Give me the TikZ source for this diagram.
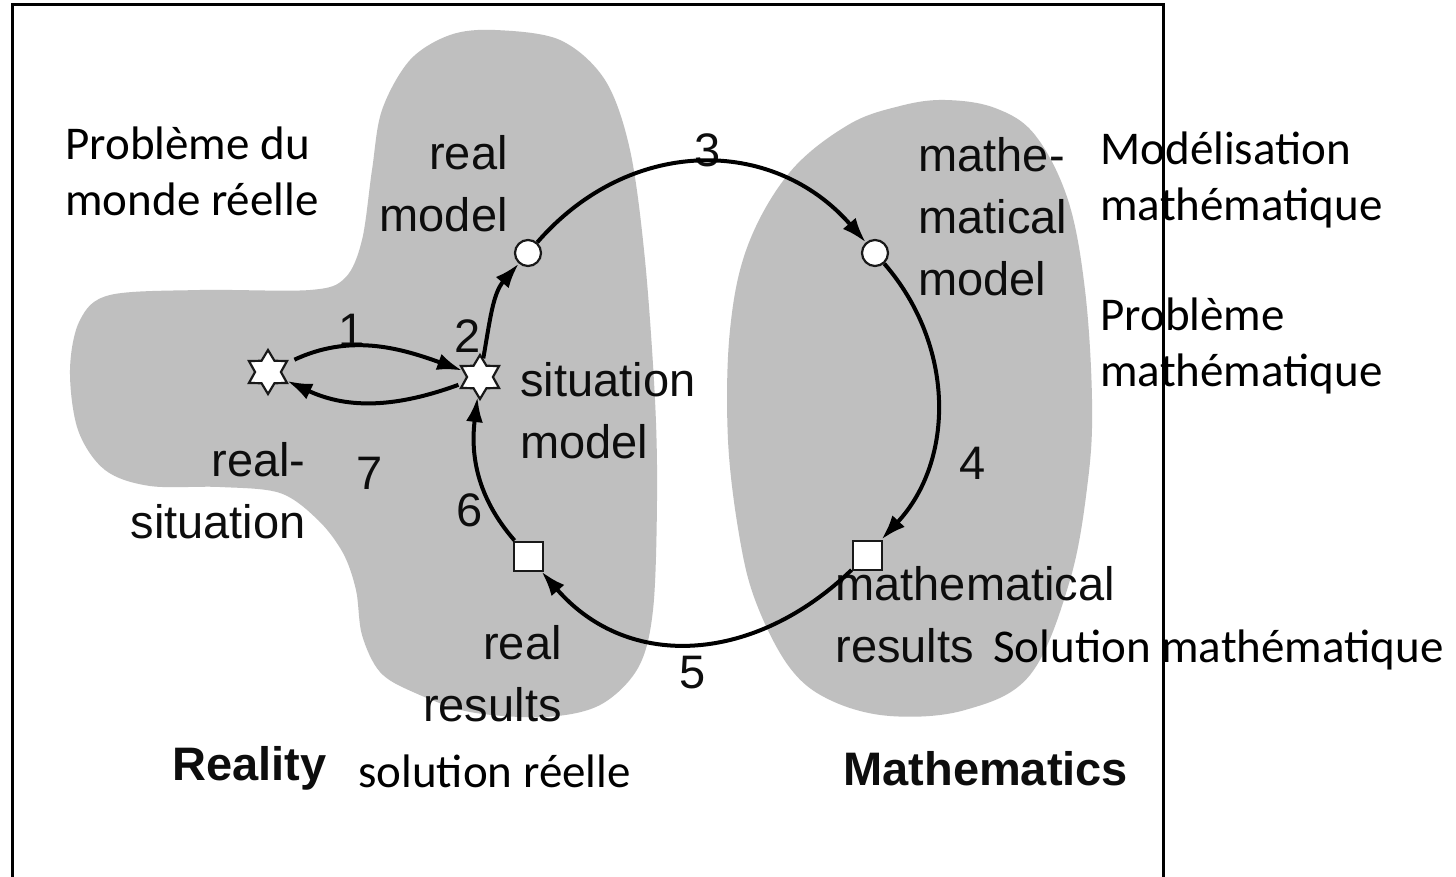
\documentclass[tikz,border=0pt]{standalone}
\usepackage{fontspec}
\newfontfamily\enfont{Liberation Sans}
\newfontfamily\frfont{Carlito}
\usetikzlibrary{shapes.geometric,arrows.meta}
\newcommand\llines[1]{\begin{tabular}[t]{@{}l@{}}#1\end{tabular}}
\newcommand\rlines[1]{\begin{tabular}[t]{@{}r@{}}#1\end{tabular}}
\begin{document}
\begin{tikzpicture}[x=0.5pt,y=0.5pt,
  en/.style={inner sep=0pt, text=black!95, font=\enfont\fontsize{23.5}{31}\selectfont},
  enb/.style={en, font=\enfont\bfseries\fontsize{23.5}{31}\selectfont},
  fr/.style={inner sep=0pt, text=black, font=\frfont\fontsize{23.5}{28}\selectfont},
  blob/.style={fill=black!25, draw=none},
  conn/.style={line width=2pt, -{Latex[length=12.5pt,width=8.5pt]}},
  circ/.style={circle, draw=black!90, fill=white, line width=1.1pt, minimum size=13pt, inner sep=0pt},
  sq/.style={rectangle, draw=black!90, fill=white, line width=1pt, minimum size=14.5pt, inner sep=0pt},
  starn/.style={star, star points=6, star point ratio=1.7, draw=black!90, fill=white, line width=1.1pt, minimum size=22pt, inner sep=0pt},
]
\useasboundingbox (0,0) rectangle (1456,-877);
\fill[white] (0,0) rectangle (1456,-877);

% Reality blob
\fill[blob] plot[smooth cycle, tension=0.55] coordinates {
 (495,-30) (560,-40) (605,-80) (630,-150) (645,-260) (655,-400) (657,-500)
 (653,-610) (638,-668) (600,-705) (545,-717) (470,-712) (413,-692) (380,-672)
 (362,-635) (356,-590) (343,-553) (318,-520) (280,-493) (220,-487) (150,-486)
 (105,-470) (78,-430) (70,-370) (80,-320) (110,-295) (200,-290) (310,-290)
 (345,-278) (362,-240) (372,-170) (382,-110) (410,-60) (450,-35)};
% Mathematics blob
\fill[blob] plot[smooth cycle, tension=0.6] coordinates {
 (945,-100) (995,-108) (1035,-135) (1068,-200) (1085,-290) (1092,-400)
 (1088,-480) (1070,-580) (1030,-675) (965,-710) (890,-716) (830,-700)
 (790,-668) (757,-605) (740,-540) (728,-440) (730,-330) (748,-245)
 (790,-172) (848,-125) (900,-106)};

% frame
\draw[line width=1.5pt] (12,-900) -- (12,-5) -- (1163,-5) -- (1163,-900);

% English labels
\node[en, anchor=base east] (trm) at (508,-170) {\rlines{real\\model}};
\node[en, anchor=base west] (tmm) at (918,-172) {\llines{mathe-\\matical\\model}};
\node[en, anchor=base west] (tsm) at (520,-396) {\llines{situation\\model}};
\node[en, anchor=base east] (trs) at (306,-476) {\rlines{real-\\situation}};
\node[en, anchor=base west] (tmr) at (835,-600) {\llines{mathematical\\results}};
\node[en, anchor=base east] (trr) at (562,-659) {\rlines{real\\results}};
\node[enb, anchor=base west] (treal) at (172,-780) {Reality};
\node[enb, anchor=base west] (tmath) at (843,-785) {Mathematics};

% French labels
\node[fr, anchor=base west] (f1) at (65,-160) {\llines{Problème du\\monde réelle}};
\node[fr, anchor=base west] (f2) at (1100,-165) {\llines{Modélisation\\mathématique}};
\node[fr, anchor=base west] (f3) at (1100,-330) {\llines{Problème\\mathématique}};
\node[fr, anchor=base west] (f4) at (993,-662) {Solution mathématique};
\node[fr, anchor=base west] (f5) at (358,-787) {solution réelle};

% numbers
\node[en] (n1) at (352,-330) {1};
\node[en] (n2) at (468,-336) {2};
\node[en] (n3) at (708,-150) {3};
\node[en] (n4) at (973,-463) {4};
\node[en] (n5) at (693,-673) {5};
\node[en] (n6) at (470,-510) {6};
\node[en] (n7) at (370,-473) {7};

% nodes
\node[starn] (RS) at (268,-372) {};
\node[starn] (SM) at (480,-377) {};
\node[circ] (RM) at (528,-253) {};
\node[circ] (MM) at (875,-253) {};
\node[sq] (MR) at (867,-555) {};
\node[sq] (RR) at (528,-556) {};

% connectors
\draw[conn] (RM) to[out=49,in=131,looseness=1.1] (MM);
\draw[conn] (MM) to[out=-49,in=47] (MR);
\draw[conn] (MR) to[out=-136,in=-49,looseness=1.1] (RR);
\draw[conn] (RR) to[out=131,in=-97] (SM);
\draw[conn] (SM) to[out=80,in=-131] (RM);
\draw[conn, shorten <=4pt] (RS) to[out=25,in=160] (SM);
\draw[conn, shorten <=2pt] (SM) to[out=-160,in=-25] (RS);
\end{tikzpicture}
\end{document}
